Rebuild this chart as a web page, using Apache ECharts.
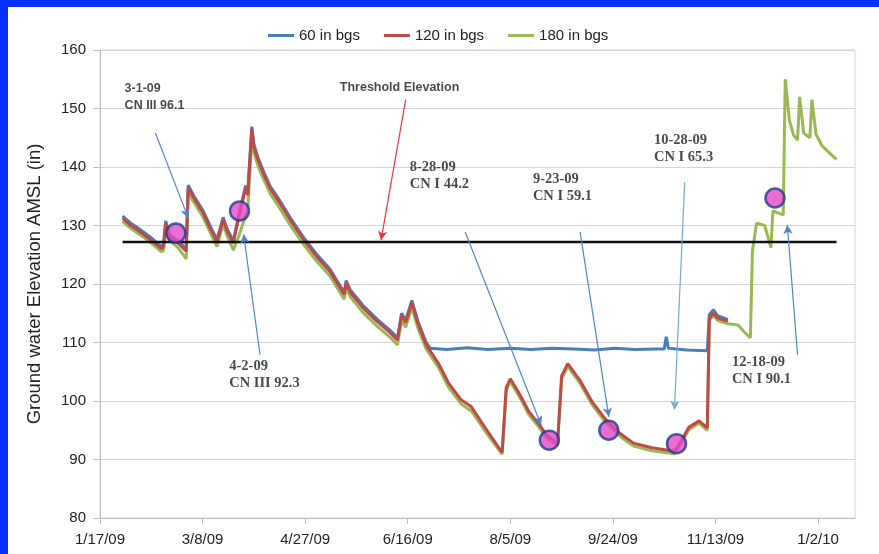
<!DOCTYPE html>
<html>
<head>
<meta charset="utf-8">
<script src="https://cdn.jsdelivr.net/npm/echarts@6/dist/echarts.min.js"></script>
<style>
  html, body { margin: 0; padding: 0; background: #fff; }
  #chart { width: 879px; height: 554px; }
</style>
</head>
<body>
<div id="chart"></div>
<script>
// water levels, [date, elevation in]
const bgs60 = [
  ['2009-01-28',131.6],['2009-02-01',130.4],['2009-02-04',129.7],['2009-02-08',128.7],['2009-02-12',127.6],
  ['2009-02-16',126.4],['2009-02-17',126.9],['2009-02-18',130.8],['2009-02-20',128.4],['2009-02-24',127.4],
  ['2009-02-28',126.0],['2009-03-01',136.9],['2009-03-04',134.9],['2009-03-08',132.7],['2009-03-12',129.7],
  ['2009-03-15',127.6],['2009-03-18',131.4],['2009-03-20',129.4],['2009-03-23',127.4],['2009-03-26',132.4],
  ['2009-03-29',136.8],['2009-03-30',135.6],['2009-04-01',146.9],['2009-04-02',143.9],['2009-04-04',141.6],
  ['2009-04-07',139.0],['2009-04-10',136.7],['2009-04-14',134.6],['2009-04-20',131.2],['2009-04-27',127.6],
  ['2009-05-03',124.9],['2009-05-09',122.6],['2009-05-16',118.6],['2009-05-17',120.6],['2009-05-19',119.0],
  ['2009-05-25',116.4],['2009-06-01',114.0],['2009-06-07',112.2],['2009-06-11',110.8],['2009-06-13',115.0],
  ['2009-06-15',113.8],['2009-06-18',117.2],['2009-06-21',113.6],['2009-06-25',110.0],['2009-06-27',109.0],
  ['2009-07-05',108.8],['2009-07-15',109.1],['2009-07-25',108.8],['2009-08-05',109.0],['2009-08-15',108.8],
  ['2009-08-25',109.0],['2009-09-05',108.9],['2009-09-15',108.7],['2009-09-25',109.0],['2009-10-05',108.8],
  ['2009-10-15',108.9],['2009-10-19',108.9],['2009-10-20',111.0],['2009-10-21',109.0],['2009-10-30',108.7],
  ['2009-11-09',108.6],['2009-11-10',114.8],['2009-11-12',115.6],['2009-11-14',114.6],['2009-11-19',113.9]
];
const bgs120 = [
  ['2009-01-28',131.2],['2009-02-01',130.0],['2009-02-04',129.3],['2009-02-08',128.3],['2009-02-12',127.2],
  ['2009-02-16',126.0],['2009-02-17',126.5],['2009-02-18',130.4],['2009-02-20',128.0],['2009-02-24',127.0],
  ['2009-02-28',125.6],['2009-03-01',136.5],['2009-03-04',134.5],['2009-03-08',132.3],['2009-03-12',129.3],
  ['2009-03-15',127.2],['2009-03-18',131.0],['2009-03-20',129.0],['2009-03-23',127.0],['2009-03-26',132.0],
  ['2009-03-29',136.4],['2009-03-30',135.2],['2009-04-01',146.5],['2009-04-02',143.5],['2009-04-04',141.2],
  ['2009-04-07',138.6],['2009-04-10',136.3],['2009-04-14',134.2],['2009-04-20',130.8],['2009-04-27',127.2],
  ['2009-05-03',124.5],['2009-05-09',122.2],['2009-05-16',118.2],['2009-05-17',120.2],['2009-05-19',118.6],
  ['2009-05-25',116.0],['2009-06-01',113.6],['2009-06-07',111.8],['2009-06-11',110.4],['2009-06-13',114.6],
  ['2009-06-15',113.4],['2009-06-18',116.8],['2009-06-21',113.2],['2009-06-25',109.6],['2009-07-01',106.4],
  ['2009-07-06',103.0],['2009-07-12',100.2],['2009-07-17',99.0],['2009-07-24',95.3],['2009-08-01',91.2],
  ['2009-08-03',102.3],['2009-08-05',103.8],['2009-08-09',101.5],['2009-08-14',98.2],['2009-08-19',96.0],
  ['2009-08-23',94.0],['2009-08-28',92.8],['2009-08-30',104.3],['2009-09-02',106.4],['2009-09-08',103.5],
  ['2009-09-14',99.8],['2009-09-21',96.6],['2009-09-28',94.3],['2009-10-04',92.8],['2009-10-13',92.0],
  ['2009-10-24',91.4],['2009-10-27',93.0],['2009-10-31',95.5],['2009-11-05',96.6],['2009-11-09',95.4],
  ['2009-11-10',114.2],['2009-11-12',115.0],['2009-11-14',114.2],['2009-11-19',113.6]
];
const bgs180 = [
  ['2009-01-28',130.7],['2009-02-01',129.5],['2009-02-04',128.8],['2009-02-08',127.8],['2009-02-12',126.7],
  ['2009-02-16',125.5],['2009-02-17',125.8],['2009-02-18',129.6],['2009-02-20',127.4],['2009-02-24',126.2],
  ['2009-02-28',124.3],['2009-03-01',135.6],['2009-03-04',133.8],['2009-03-08',131.6],['2009-03-12',128.6],
  ['2009-03-15',126.4],['2009-03-18',130.2],['2009-03-20',128.2],['2009-03-23',125.8],['2009-03-26',128.5],
  ['2009-03-29',131.8],['2009-03-30',132.5],['2009-04-01',144.8],['2009-04-02',142.5],['2009-04-04',140.2],
  ['2009-04-07',137.7],['2009-04-10',135.4],['2009-04-14',133.3],['2009-04-20',129.9],['2009-04-27',126.4],
  ['2009-05-03',123.7],['2009-05-09',121.4],['2009-05-16',117.4],['2009-05-17',119.3],['2009-05-19',117.8],
  ['2009-05-25',115.2],['2009-06-01',112.8],['2009-06-07',111.0],['2009-06-11',109.6],['2009-06-13',113.8],
  ['2009-06-15',112.6],['2009-06-18',116.0],['2009-06-21',112.4],['2009-06-25',108.9],['2009-07-01',105.7],
  ['2009-07-06',102.3],['2009-07-12',99.5],['2009-07-17',98.3],['2009-07-24',94.7],['2009-08-01',90.9],
  ['2009-08-03',101.8],['2009-08-05',103.3],['2009-08-09',101.0],['2009-08-14',97.7],['2009-08-19',95.5],
  ['2009-08-23',93.5],['2009-08-28',92.4],['2009-08-30',103.8],['2009-09-02',105.9],['2009-09-08',103.0],
  ['2009-09-14',99.3],['2009-09-21',96.1],['2009-09-28',93.8],['2009-10-04',92.3],['2009-10-13',91.5],
  ['2009-10-24',91.0],['2009-10-27',92.6],['2009-10-31',95.1],['2009-11-05',96.2],['2009-11-09',95.0],
  ['2009-11-10',113.8],['2009-11-12',114.6],['2009-11-14',113.8],['2009-11-19',113.2],['2009-11-24',113.0],
  ['2009-11-27',111.8],['2009-11-30',110.8],['2009-12-01',125.6],['2009-12-03',130.4],['2009-12-07',130.0],
  ['2009-12-10',126.2],['2009-12-11',132.5],['2009-12-16',131.8],['2009-12-17',155.0],['2009-12-19',148.0],
  ['2009-12-21',145.5],['2009-12-23',144.6],['2009-12-24',152.0],['2009-12-26',145.8],['2009-12-29',145.0],
  ['2009-12-30',151.5],['2010-01-01',145.6],['2010-01-04',143.6],['2010-01-07',142.6],['2010-01-11',141.3]
];
const threshold = [['2009-01-28',127.2],['2010-01-11',127.2]];
const samples = [
  ['2009-02-23',128.7],['2009-03-26',132.5],['2009-08-24',93.3],
  ['2009-09-22',95.0],['2009-10-25',92.7],['2009-12-12',134.7]
];
// callouts: [from, to, colour]
const arrows = [
  [['2009-02-13',145.8],['2009-03-01',131.3],'#4f86c6'],
  [['2009-04-05',107.9],['2009-03-28',128.5],'#4f86c6'],
  [['2009-06-15',151.5],['2009-06-03',127.5],'#e8383c'],
  [['2009-07-14',128.9],['2009-08-20',95.9],'#4f86c6'],
  [['2009-09-08',128.9],['2009-09-22',97.3],'#4f86c6'],
  [['2009-10-29',137.4],['2009-10-24',98.5],'#7aa6d8'],
  [['2009-12-23',107.9],['2009-12-18',130.1],'#4f86c6']
];
const notes = [
  ['2009-01-29',152.0,'3-1-09\nCN III 96.1','sans'],
  ['2009-06-12',153.5,'Threshold Elevation','title'],
  ['2009-03-21',104.5,'4-2-09\nCN III 92.3','serif'],
  ['2009-06-17',138.5,'8-28-09\nCN I 44.2','serif'],
  ['2009-08-16',136.4,'9-23-09\nCN I 59.1','serif'],
  ['2009-10-14',143.1,'10-28-09\nCN I 65.3','serif'],
  ['2009-11-21',105.1,'12-18-09\nCN I 90.1','serif']
];

const DAY0 = Date.parse('2009-01-17');
const toDay = s => (Date.parse(s) - DAY0) / 86400000;
const pts = arr => arr.map(p => [toDay(p[0]), p[1]]);
const fmtDay = d => {
  const t = new Date(DAY0 + d * 86400000);
  return (t.getUTCMonth() + 1) + '/' + t.getUTCDate() + '/' + String(t.getUTCFullYear() % 100).padStart(2, '0');
};

const noteStyle = {
  sans: { fontFamily: 'Liberation Sans', fontWeight: 'bold', fontSize: 12.5, align: 'left' },
  title: { fontFamily: 'Liberation Sans', fontWeight: 'bold', fontSize: 12.5, align: 'center' },
  serif: { fontFamily: 'Liberation Serif', fontWeight: 'bold', fontSize: 14.5, align: 'left' }
};

const chart = echarts.init(document.getElementById('chart'));

const lineSeries = (name, data, color, z) => ({
  name, type: 'line', data: pts(data), symbol: 'none', z,
  lineStyle: { color, width: 3 }, itemStyle: { color }
});

chart.setOption({
  animation: false,
  textStyle: { fontFamily: 'Liberation Sans' },
  graphic: [
    { type: 'rect', left: 0, top: 0, shape: { width: 879, height: 7 }, style: { fill: '#0530ff' } },
    { type: 'rect', left: 0, top: 0, shape: { width: 8, height: 554 }, style: { fill: '#0530ff' } }
  ],
  legend: {
    left: 263, top: 23, itemWidth: 26, itemHeight: 3, itemGap: 24, icon: 'rect',
    data: ['60 in bgs', '120 in bgs', '180 in bgs'],
    textStyle: { fontSize: 15, color: '#222' }
  },
  grid: { left: 100, right: 24, top: 50, bottom: 36, show: true, borderColor: '#c9d8e8', borderWidth: 1 },
  xAxis: {
    type: 'value', min: 0, max: 368, interval: 50,
    axisLine: { lineStyle: { color: '#bfbfbf' } },
    axisTick: { show: true, length: 6, lineStyle: { color: '#bfbfbf' } },
    splitLine: { show: false },
    axisLabel: { formatter: fmtDay, fontSize: 15, color: '#222', margin: 14 }
  },
  yAxis: {
    type: 'value', min: 80, max: 160, interval: 10,
    name: 'Ground water Elevation AMSL (in)', nameLocation: 'middle', nameGap: 56,
    nameTextStyle: { fontSize: 18.5, color: '#222' },
    axisLine: { show: true, lineStyle: { color: '#bfbfbf' } },
    axisTick: { show: true, length: 7, lineStyle: { color: '#bfbfbf' } },
    splitLine: { lineStyle: { color: '#d4d4d4', width: 1 } },
    axisLabel: { fontSize: 15, color: '#222', margin: 14 }
  },
  series: [
    lineSeries('60 in bgs', bgs60, '#4a7ebb', 2.4),
    lineSeries('120 in bgs', bgs120, '#be4b48', 2.6),
    lineSeries('180 in bgs', bgs180, '#98b954', 2.2),
    {
      name: 'threshold', type: 'line', data: pts(threshold), symbol: 'none',
      lineStyle: { color: '#111', width: 2.5 }, z: 3
    },
    {
      name: 'arrows', type: 'line', data: [],
      markLine: {
        silent: true, symbol: ['none', 'arrow'], symbolSize: [7, 9],
        label: { show: false },
        data: arrows.map(a => [
          { coord: [toDay(a[0][0]), a[0][1]], lineStyle: { color: a[2], width: 1.2, type: 'solid' } },
          { coord: [toDay(a[1][0]), a[1][1]] }
        ])
      }
    },
    {
      name: 'samples', type: 'scatter', data: pts(samples), symbolSize: 19, z: 5,
      itemStyle: { color: '#e448c8', borderColor: '#1f3c8c', borderWidth: 2.5 }
    },
    {
      name: 'notes', type: 'scatter', symbolSize: 0, z: 6,
      data: notes.map(n => ({
        value: [toDay(n[0]), n[1]],
        label: Object.assign({
          show: true, position: [0, 0], verticalAlign: 'middle',
          formatter: n[2], color: '#1a1a1a', lineHeight: 17
        }, noteStyle[n[3]])
      }))
    }
  ]
});
</script>
</body>
</html>
